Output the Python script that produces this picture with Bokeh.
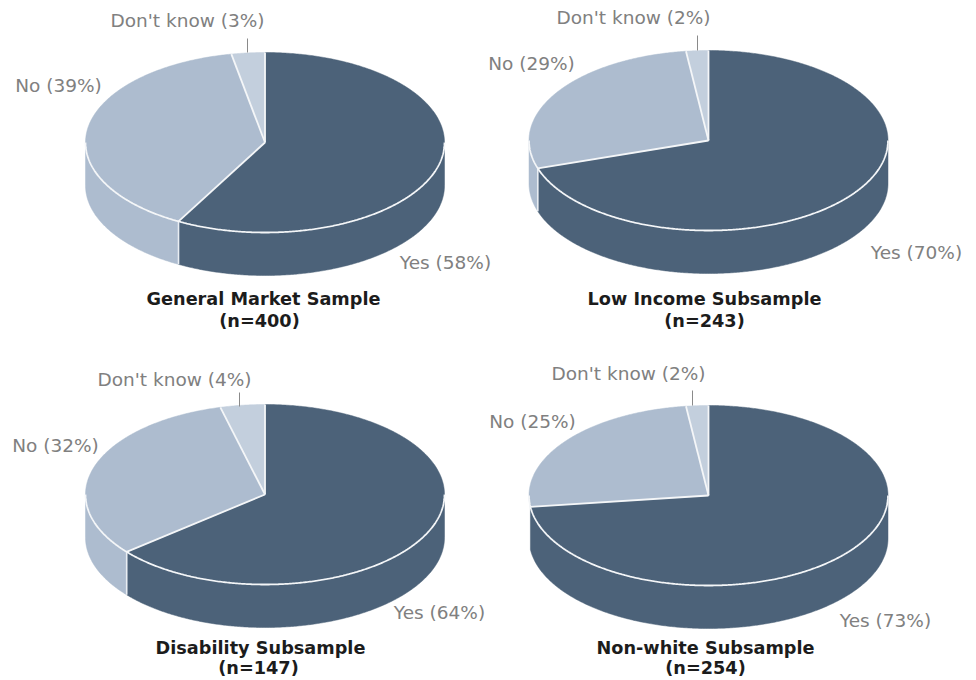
import numpy as np
from bokeh.embed import file_html
from bokeh.models import Range1d
from bokeh.plotting import figure
from bokeh.resources import INLINE
from bokeh.core.properties import value

# Survey shares per sample, in percent
samples = ["General Market Sample", "Low Income Subsample", "Disability Subsample", "Non-white Subsample"]
sample_sizes = [400, 243, 147, 254]
yes_share = [58, 70, 64, 73]
no_share = [39, 29, 32, 25]
dont_know_share = [3, 2, 4, 2]

# Layout of each pie on the page, in pixels
centers = [(264.5, 142), (708, 140), (264.5, 494), (708, 495)]
RX, RY, DEPTH = 179.5, 90, 43
yes_label_xy = [(445, 262), (916, 252), (439, 612), (885, 620)]
no_label_xy = [(58, 85), (531, 63), (55, 445), (532, 421)]
dk_label_xy = [(187, 20), (633, 17), (174, 379), (628, 373)]
dk_leader = [(247, 38, 52), (697, 35, 50), (239, 392, 406), (692, 390, 405)]
title_xy = [(263, 298), (704, 298), (260, 647), (705, 647)]
note_xy = [(259, 320), (704, 320), (258, 667), (705, 667)]

DARK, MID, LIGHT = "#4c6279", "#adbccf", "#c3cfdd"
TEXT_GREY = "#808080"
FONT = value("DejaVu Sans")
LABEL_SIZE = "18.5px"
TITLE_SIZE = "17.7px"
MIN_WALL_SPLIT_DEG = 15  # a "No" wall narrower than this is not drawn

p = figure(width=976, height=680, output_backend="svg", toolbar_location=None,
           x_range=Range1d(0, 976), y_range=Range1d(680, 0), min_border=0,
           background_fill_color="white", border_fill_color="white", outline_line_color=None)
p.axis.visible = False
p.grid.visible = False


def ellipse_xy(cx, cy, t_deg):
    t = np.radians(t_deg)
    return cx + RX * np.sin(t), cy - RY * np.cos(t)


def arc(a, b):
    return np.linspace(a, b, max(int(abs(b - a) * 2), 2))


for i, (cx, cy) in enumerate(centers):
    # Slices run clockwise from twelve o'clock; rounded shares may sum past 100,
    # so "No" takes whatever lies between the other two.
    yes_end = 3.6 * yes_share[i]
    no_end = 360 - 3.6 * dont_know_share[i]

    # Side wall: only the front half of the disc shows
    split_wall = 270 - yes_end >= MIN_WALL_SPLIT_DEG
    walls = [(90, yes_end, DARK)]
    if split_wall:
        walls.append((yes_end, 270, MID))
    for a, b, color in walls:
        ts = arc(a, b)
        xt, yt = ellipse_xy(cx, cy, ts)
        p.patch(np.r_[xt, xt[::-1]], np.r_[yt, yt[::-1] + DEPTH],
                fill_color=color, line_color=color, line_width=0.5)
    if split_wall:
        sx, sy = ellipse_xy(cx, cy, yes_end)
        p.line([sx, sx], [sy, sy + DEPTH], line_color="#e8edf2", line_width=1.6)

    # Top face wedges
    for a, b, color in [(0, yes_end, DARK), (yes_end, no_end, MID), (no_end, 360, LIGHT)]:
        xt, yt = ellipse_xy(cx, cy, arc(a, b))
        p.patch(np.r_[cx, xt], np.r_[cy, yt], fill_color=color, line_color=color, line_width=0.5)

    # White seams between wedges and along the front rim
    for t in (0, yes_end, no_end):
        ex, ey = ellipse_xy(cx, cy, t)
        p.line([cx, ex], [cy, ey], line_color="#f4f6f8", line_width=1.8)
    xf, yf = ellipse_xy(cx, cy, arc(90, 270))
    p.line(xf, yf, line_color="#f4f6f8", line_width=1.8)

    # Leader line of the smallest slice
    lx, y0, y1 = dk_leader[i]
    p.line([lx, lx], [y0, y1], line_color="#8a8a8a", line_width=1)

    for (x, y), s in [(yes_label_xy[i], f"Yes ({yes_share[i]}%)"),
                      (no_label_xy[i], f"No ({no_share[i]}%)"),
                      (dk_label_xy[i], f"Don't know ({dont_know_share[i]}%)")]:
        p.text([x], [y], text=[s], text_font=FONT, text_font_size=LABEL_SIZE, text_color=TEXT_GREY,
               text_align="center", text_baseline="middle")

    p.text([title_xy[i][0]], [title_xy[i][1]], text=[samples[i]], text_font=FONT, text_font_size=TITLE_SIZE,
           text_font_style="bold", text_color="#1c1c1c", text_align="center", text_baseline="middle")
    p.text([note_xy[i][0]], [note_xy[i][1]], text=[f"(n={sample_sizes[i]})"], text_font=FONT, text_font_size=TITLE_SIZE,
           text_font_style="bold", text_color="#1c1c1c", text_align="center", text_baseline="middle")

open("out.html", "w").write(file_html(p, INLINE))
